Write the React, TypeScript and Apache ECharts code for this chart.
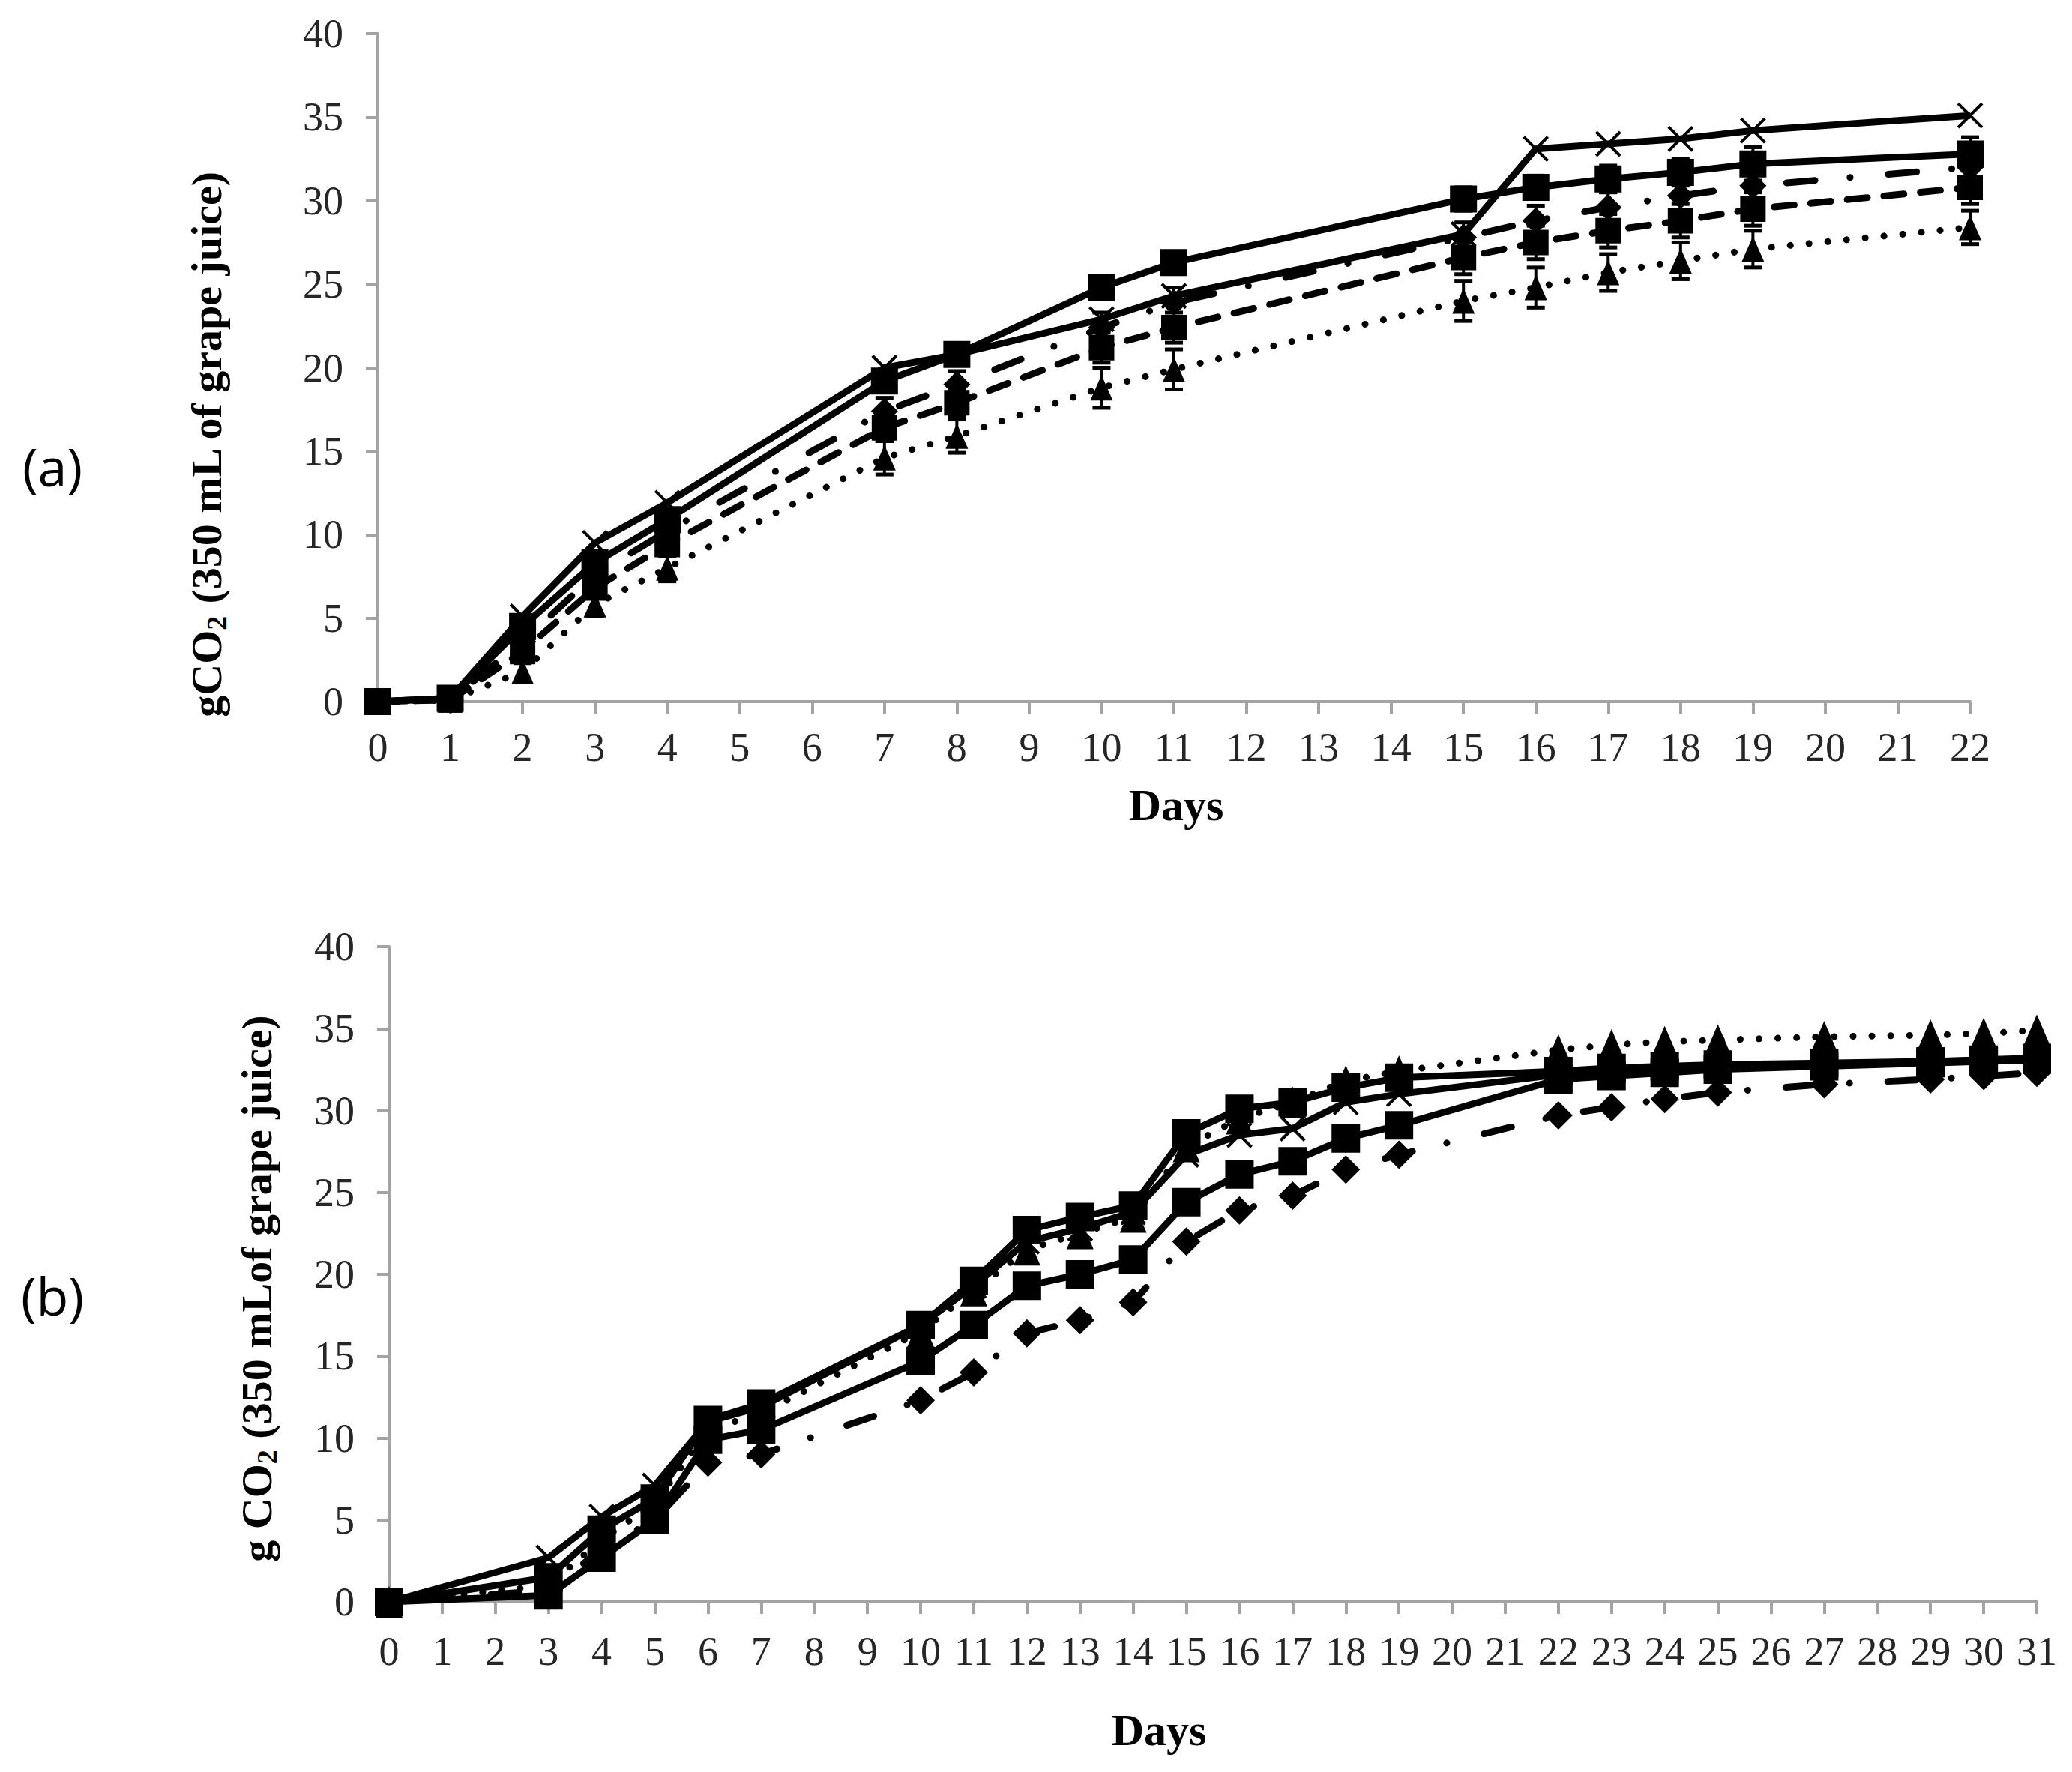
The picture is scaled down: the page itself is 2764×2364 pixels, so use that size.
import React, { useEffect, useRef } from "react";
import * as echarts from "echarts";

// ---------- Panel (a) ----------
const daysA = [0, 1, 2, 3, 4, 7, 8, 10, 11, 15, 16, 17, 18, 19, 22];
const a1Square = [0, 0.2, 4.5, 8.3, 10.9, 19.2, 20.8, 24.8, 26.3, 30.1, 30.8, 31.3, 31.7, 32.2, 32.8];
const a2Cross = [0, 0.2, 5.1, 9.5, 11.9, 20.0, 20.8, 22.9, 24.3, 28.0, 33.1, 33.4, 33.7, 34.2, 35.1];
const a3DashDot = [0, 0.1, 3.6, 7.6, 10.2, 17.4, 19.0, 22.4, 23.9, 27.8, 28.8, 29.6, 30.3, 30.9, 32.0];
const a4Dashed = [0, 0.1, 3.0, 6.8, 9.4, 16.4, 17.9, 21.2, 22.4, 26.6, 27.5, 28.2, 28.8, 29.5, 30.8];
const a5Dotted = [0, 0.1, 1.8, 5.8, 8.0, 14.6, 15.9, 18.8, 19.9, 24.0, 24.8, 25.7, 26.4, 27.1, 28.4];
const errA1 = [0, 0.1, 0.4, 0.5, 0.5, 0.6, 0.6, 0.6, 0.6, 0.7, 0.7, 0.8, 0.8, 1.0, 1.0];
const errA3 = [0, 0.1, 0.5, 0.6, 0.7, 0.8, 0.8, 0.9, 0.9, 0.9, 0.9, 0.9, 0.9, 0.9, 0.9];
const errA4 = [0, 0.1, 0.5, 0.6, 0.7, 0.8, 0.8, 0.9, 0.9, 1.0, 1.0, 1.0, 1.0, 1.0, 1.0];
const errA5 = [0, 0.1, 0.5, 0.7, 0.8, 1.0, 1.0, 1.2, 1.2, 1.2, 1.2, 1.1, 1.1, 1.1, 1.0];

// ---------- Panel (b) ----------
const daysB = [0, 3, 4, 5, 6, 7, 10, 11, 12, 13, 14, 15, 16, 17, 18, 19, 22, 23, 24, 25, 27, 29, 30, 31];
const b1Square = [0, 1.5, 4.4, 6.3, 11.1, 12.1, 16.9, 19.6, 22.7, 23.5, 24.2, 28.6, 30.1, 30.5, 31.4, 32.0, 32.4, 32.6, 32.7, 32.8, 32.9, 33.0, 33.1, 33.2];
const b2Cross = [0, 2.7, 5.2, 7.1, 11.0, 11.9, 16.9, 19.3, 22.0, 22.8, 23.8, 27.3, 28.5, 28.9, 30.5, 31.0, 32.2, 32.4, 32.5, 32.6, 32.8, 33.0, 33.0, 33.1];
const b3Square = [0, 0.4, 2.7, 5.0, 9.9, 10.5, 14.7, 16.9, 19.3, 20.0, 20.9, 24.4, 26.1, 26.9, 28.3, 29.1, 31.9, 32.1, 32.3, 32.5, 32.7, 32.9, 33.0, 33.1];
const b4DashDot = [0, 0.7, 3.2, 5.0, 8.5, 9.0, 12.3, 14.0, 16.4, 17.2, 18.3, 22.0, 23.9, 24.8, 26.4, 27.3, 29.7, 30.2, 30.7, 31.1, 31.6, 31.9, 32.1, 32.3];
const b5Dotted = [0, 1.0, 3.8, 6.0, 10.5, 11.5, 16.5, 19.0, 21.5, 22.5, 23.5, 27.8, 29.5, 30.5, 31.8, 32.4, 33.7, 34.0, 34.2, 34.3, 34.5, 34.6, 34.7, 34.9];

const yTitleA = "{a|gCO}{s|2}{a| (350 mL of grape juice)}";
const yTitleB = "{a|g CO}{s|2}{a| (350 mLof grape juice)}";
const xTitle = "Days";
const panelLabels = ["(a)", "(b)"];

const SERIF = "'Liberation Serif', 'Times New Roman', serif";
const CROSS = "path://M0,0L10,10M10,0L0,10";
const DOTTED = [0.1, 25];
const DASHED = [27, 22];
const DASHDOT = [38, 47, 0.1, 51];

function lineSeries(idx: number, days: number[], vals: number[], symbol: string, size: any, dash: any, width: number) {
  const isCross = symbol === CROSS;
  return {
    type: "line",
    xAxisIndex: idx,
    yAxisIndex: idx,
    data: days.map((d, i) => [d, vals[i]]),
    symbol,
    symbolSize: size,
    showAllSymbol: true,
    clip: false,
    z: 3,
    lineStyle: { color: "#000", width, type: dash, cap: dash === "solid" ? "butt" : "round" },
    itemStyle: isCross
      ? { color: "rgba(0,0,0,0)", borderColor: "#000", borderWidth: 4 }
      : { color: "#000" },
  };
}

function errorSeries(idx: number, days: number[], vals: number[], err: number[]) {
  return {
    type: "custom",
    xAxisIndex: idx,
    yAxisIndex: idx,
    clip: false,
    z: 1,
    data: days.map((d, i) => [d, vals[i] - err[i], vals[i] + err[i]]),
    encode: { x: 0, y: [1, 2] },
    renderItem: (params: any, api: any) => {
      const x = api.value(0);
      const lo = api.coord([x, api.value(1)]);
      const hi = api.coord([x, api.value(2)]);
      const hw = 12;
      const st = { stroke: "#000", lineWidth: 4 };
      return {
        type: "group",
        children: [
          { type: "line", shape: { x1: lo[0], y1: lo[1], x2: hi[0], y2: hi[1] }, style: st },
          { type: "line", shape: { x1: lo[0] - hw, y1: lo[1], x2: lo[0] + hw, y2: lo[1] }, style: { stroke: "#000", lineWidth: 5 } },
          { type: "line", shape: { x1: hi[0] - hw, y1: hi[1], x2: hi[0] + hw, y2: hi[1] }, style: { stroke: "#000", lineWidth: 5 } },
        ],
      };
    },
  };
}

function xAxisDef(idx: number, max: number, margin: number) {
  return {
    type: "value",
    gridIndex: idx,
    min: 0,
    max,
    interval: 1,
    splitLine: { show: false },
    axisLine: { show: true, onZero: false, lineStyle: { color: "#a3a3a3", width: 4 } },
    axisTick: { show: true, inside: false, length: 16, lineStyle: { color: "#a3a3a3", width: 4 } },
    axisLabel: { fontFamily: SERIF, fontSize: 54, color: "#262626", margin },
  };
}

function yAxisDef(idx: number) {
  return {
    type: "value",
    gridIndex: idx,
    min: 0,
    max: 40,
    interval: 5,
    splitLine: { show: false },
    axisLine: { show: true, lineStyle: { color: "#a3a3a3", width: 4 } },
    axisTick: { show: true, inside: false, length: 16, lineStyle: { color: "#a3a3a3", width: 4 } },
    axisLabel: { fontFamily: SERIF, fontSize: 54, color: "#262626", margin: 46 },
  };
}

const richTitle = {
  a: { fontFamily: SERIF, fontSize: 58, fontWeight: "bold", color: "#000", lineHeight: 66 },
  s: { fontFamily: SERIF, fontSize: 38, fontWeight: "bold", color: "#000", lineHeight: 40, verticalAlign: "bottom" },
};

export default function App() {
  const ref = useRef<HTMLDivElement>(null);
  useEffect(() => {
    document.body.style.margin = "0";
    const chart = echarts.init(ref.current!, undefined, { renderer: "svg" });
    chart.setOption({
      animation: false,
      backgroundColor: "#fff",
      grid: [
        { left: 504, top: 45, width: 2124, height: 891 },
        { left: 519, top: 1263, width: 2198, height: 874 },
      ],
      xAxis: [xAxisDef(0, 22, 34), xAxisDef(1, 31, 39)],
      yAxis: [yAxisDef(0), yAxisDef(1)],
      series: [
        errorSeries(0, daysA, a5Dotted, errA5),
        errorSeries(0, daysA, a4Dashed, errA4),
        errorSeries(0, daysA, a3DashDot, errA3),
        errorSeries(0, daysA, a1Square, errA1),
        lineSeries(0, daysA, a5Dotted, "triangle", [30, 34], DOTTED, 9),
        lineSeries(0, daysA, a4Dashed, "rect", 34, DASHED, 9),
        lineSeries(0, daysA, a3DashDot, "diamond", 36, DASHDOT, 9),
        lineSeries(0, daysA, a1Square, "rect", 36, "solid", 9),
        lineSeries(0, daysA, a2Cross, CROSS, 32, "solid", 9),
        lineSeries(1, daysB, b5Dotted, "triangle", [36, 42], DOTTED, 9),
        lineSeries(1, daysB, b4DashDot, "diamond", 38, DASHDOT, 9),
        lineSeries(1, daysB, b3Square, "rect", 38, "solid", 9),
        lineSeries(1, daysB, b1Square, "rect", 38, "solid", 9),
        lineSeries(1, daysB, b2Cross, CROSS, 32, "solid", 9),
      ],
      graphic: [
        {
          type: "text", x: 275, y: 592, rotation: Math.PI / 2,
          style: { text: yTitleA, rich: richTitle, align: "center", verticalAlign: "middle" },
        },
        {
          type: "text", x: 342, y: 1719, rotation: Math.PI / 2,
          style: { text: yTitleB, rich: richTitle, align: "center", verticalAlign: "middle" },
        },
        {
          type: "text", x: 1569, y: 1074,
          style: { text: xTitle, fontFamily: SERIF, fontSize: 60, fontWeight: "bold", fill: "#000", align: "center", verticalAlign: "middle" },
        },
        {
          type: "text", x: 1546, y: 2308,
          style: { text: xTitle, fontFamily: SERIF, fontSize: 60, fontWeight: "bold", fill: "#000", align: "center", verticalAlign: "middle" },
        },
        {
          type: "text", x: 70, y: 622,
          style: { text: panelLabels[0], fontFamily: "'Open Sans', 'Noto Sans', sans-serif", fontSize: 70, fill: "#000", align: "center", verticalAlign: "middle" },
        },
        {
          type: "text", x: 70, y: 1728,
          style: { text: panelLabels[1], fontFamily: "'Open Sans', 'Noto Sans', sans-serif", fontSize: 70, fill: "#000", align: "center", verticalAlign: "middle" },
        },
      ],
    });
    return () => chart.dispose();
  }, []);
  return <div ref={ref} style={{ width: 2764, height: 2364 }} />;
}
